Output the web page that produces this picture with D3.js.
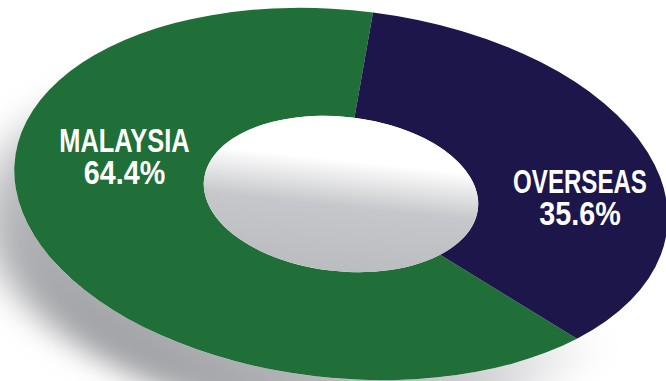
<!DOCTYPE html>
<html>
<head>
<meta charset="utf-8">
<script src="https://cdn.jsdelivr.net/npm/d3@7"></script>
<style>
  html, body { margin: 0; padding: 0; background: #fff; overflow: hidden; }
</style>
</head>
<body>
<svg id="chart"></svg>
<script>
// data
const categories = ["MALAYSIA", "OVERSEAS"]
const shares = [64.4, 35.6]
const shareLabels = ["64.4%", "35.6%"]
const colors = ["#216f38", "#1d164b"]

const width = 666
const height = 381
const svg = d3.select('#chart')
    .attr("width", width)
    .attr("height", height)

// ellipse geometry (donut seen at an angle)
const cx = 341, cy = 194
const rx = 328, ry = 184
const tilt = 6
const holeRatio = 0.42
const start = 2.276

const defs = svg.append("defs")

const blur = defs.append("filter")
    .attr("id", "shadowBlur")
    .attr("x", "-30%").attr("y", "-30%")
    .attr("width", "160%").attr("height", "160%")
blur.append("feGaussianBlur").attr("stdDeviation", 12)

// shadow fades from lower left to upper right
const shadowGrad = defs.append("linearGradient")
    .attr("id", "shadowGrad")
    .attr("x1", 0.75).attr("y1", 0.1).attr("x2", 0.15).attr("y2", 0.85)
shadowGrad.append("stop").attr("offset", "0%").attr("stop-color", "#ffffff")
shadowGrad.append("stop").attr("offset", "35%").attr("stop-color", "#ffffff")
shadowGrad.append("stop").attr("offset", "65%").attr("stop-color", "#c4c5c8")
shadowGrad.append("stop").attr("offset", "100%").attr("stop-color", "#9c9da0")

const holeGrad = defs.append("linearGradient")
    .attr("id", "holeGrad")
    .attr("x1", 0).attr("y1", 0).attr("x2", 0).attr("y2", 1)
holeGrad.append("stop").attr("offset", "0%").attr("stop-color", "#ffffff")
holeGrad.append("stop").attr("offset", "28%").attr("stop-color", "#ffffff")
holeGrad.append("stop").attr("offset", "58%").attr("stop-color", "#c6c7ca")
holeGrad.append("stop").attr("offset", "100%").attr("stop-color", "#bbbcbf")

const pie = d3.pie()
    .sort(null)
    .value(d => d)
    .startAngle(start)
    .endAngle(start + 2 * Math.PI)

const arcs = pie(shares)

const ring = d3.arc()
    .innerRadius(ry * holeRatio)
    .outerRadius(ry)

const disc = d3.arc()
    .innerRadius(0)
    .startAngle(0)
    .endAngle(2 * Math.PI)

const tiltTransform = `translate(${cx},${cy}) rotate(${tilt}) scale(${rx / ry},1)`

// drop shadow under the ring
svg.append("g")
    .attr("transform", `translate(-28,40) ${tiltTransform}`)
    .append("path")
    .attr("d", disc({ outerRadius: ry }))
    .attr("fill", "url(#shadowGrad)")
    .attr("filter", "url(#shadowBlur)")

const donut = svg.append("g")
    .attr("transform", tiltTransform)

donut.append("path")
    .attr("d", disc({ outerRadius: ry }))
    .attr("fill", "#fff")

donut.selectAll("path.slice")
    .data(arcs)
    .enter()
    .append("path")
    .attr("class", "slice")
    .attr("d", ring)
    .attr("fill", (d, i) => colors[i])

// the hole
donut.append("path")
    .attr("d", disc({ outerRadius: ry * holeRatio }))
    .attr("fill", "url(#holeGrad)")

// labels (condensed look by squeezing a bold sans)
const labelPos = [[124.5, 152], [580, 193]]
const lineGap = 32
const font = "'Liberation Sans', Arial, sans-serif"

const labelGroups = svg.selectAll("g.label")
    .data(categories)
    .enter()
    .append("g")
    .attr("class", "label")
    .attr("transform", (d, i) => `translate(${labelPos[i][0]},${labelPos[i][1]})`)

labelGroups.append("text")
    .attr("text-anchor", "middle")
    .attr("transform", (d, i) => `scale(${i === 0 ? 0.77 : 0.73},1)`)
    .attr("font-family", font)
    .attr("font-weight", "bold")
    .attr("font-size", 33)
    .attr("fill", "#fff")
    .text(d => d)

labelGroups.append("text")
    .attr("text-anchor", "middle")
    .attr("transform", `translate(0,${lineGap}) scale(0.87,1)`)
    .attr("font-family", font)
    .attr("font-weight", "bold")
    .attr("font-size", 33)
    .attr("fill", "#fff")
    .text((d, i) => shareLabels[i])
</script>
</body>
</html>
